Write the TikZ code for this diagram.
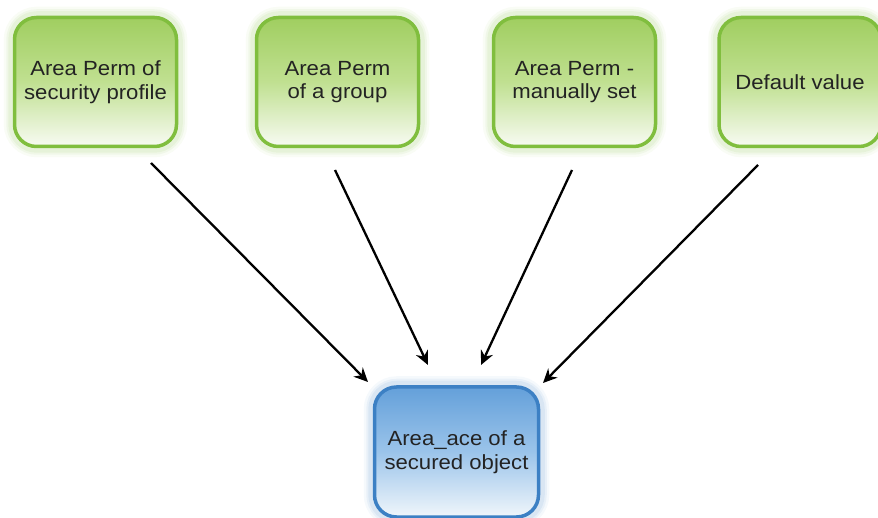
\documentclass[tikz,border=0pt]{standalone}
\usepackage{fontspec}
\setmainfont[FakeStretch=1.08]{Liberation Sans}
\usetikzlibrary{arrows.meta,backgrounds}
\definecolor{gborder}{RGB}{128,190,62}
\definecolor{gtop}{RGB}{160,206,96}
\definecolor{gmid}{RGB}{192,224,145}
\definecolor{gbot}{RGB}{248,251,243}
\definecolor{bborder}{RGB}{60,128,196}
\definecolor{btop}{RGB}{100,160,218}
\definecolor{bmid}{RGB}{155,196,234}
\definecolor{bbot}{RGB}{240,246,251}
\definecolor{txt}{RGB}{35,35,35}
\tikzset{
  gbox/.style={rounded corners=22pt, draw=gborder, line width=3.5pt,
    minimum width=162pt, minimum height=129pt, align=center,
    top color=gtop, bottom color=gbot, middle color=gmid,
    font=\fontsize{20.5}{23.5}\selectfont, text=txt},
  bbox/.style={rounded corners=22pt, draw=bborder, line width=3.5pt,
    minimum width=164pt, minimum height=130pt, align=center,
    top color=btop, bottom color=bbot, middle color=bmid,
    font=\fontsize{20.5}{23.5}\selectfont, text=txt},
  arr/.style={line width=2.3pt, -{Stealth[length=14pt,width=13pt]}, black}
}
\begin{document}
\begin{tikzpicture}[x=1pt,y=-1pt]
\useasboundingbox (0,0) rectangle (878,518);
\node[gbox] (b1) at (95.5,82) {Area Perm of\\security profile};
\node[gbox] (b2) at (337.5,82) {Area Perm\\of a group};
\node[gbox] (b3) at (574.5,82) {Area Perm -\\manually set};
\node[gbox] (b4) at (800,82) {Default value};
\node[bbox] (c) at (456.5,452) {Area\_ace of a\\secured object};
\begin{scope}[on background layer]
  \foreach \n/\col in {b1/gborder,b2/gborder,b3/gborder,b4/gborder,c/bborder}{
    \foreach \w/\o in {18/0.05,13/0.07,9/0.09}{
      \draw[\col, line width=\w pt, opacity=\o, rounded corners=24pt]
        (\n.south west) rectangle (\n.north east);
    }
  }
\end{scope}
\coordinate (s1) at (151,163);
\coordinate (e1) at (368,382);
\coordinate (s2) at (335,170);
\coordinate (e2) at (428,365);
\coordinate (s3) at (572,170);
\coordinate (e3) at (481,365);
\coordinate (s4) at (758,165);
\coordinate (e4) at (543,383);
\draw[arr] (s1) -- (e1);
\draw[arr] (s2) -- (e2);
\draw[arr] (s3) -- (e3);
\draw[arr] (s4) -- (e4);
\end{tikzpicture}
\end{document}
